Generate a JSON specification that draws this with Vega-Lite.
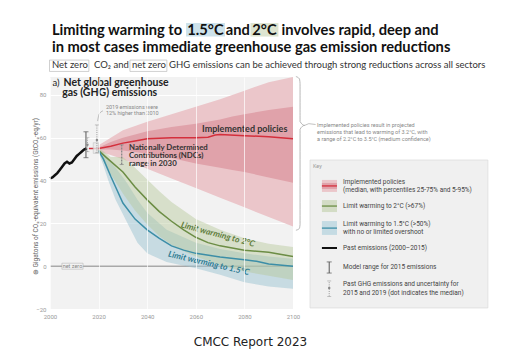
{
  "$schema": "https://vega.github.io/schema/vega-lite/v6.json",
  "autosize": {"type": "none"},
  "width": 243,
  "height": 232,
  "padding": {"left": 50, "top": 77, "right": 225, "bottom": 45},
  "background": "white",
  "config": {"font": "Roboto", "view": {"fill": "#f2f2f2", "stroke": null}},
  "datasets": {
    "bands": [
      {"year": 2020, "band": "imp_outer", "lo": 53.5, "hi": 56.5},
      {"year": 2025, "band": "imp_outer", "lo": 52, "hi": 60},
      {"year": 2030, "band": "imp_outer", "lo": 50, "hi": 63.5},
      {"year": 2040, "band": "imp_outer", "lo": 45.5, "hi": 67.5},
      {"year": 2050, "band": "imp_outer", "lo": 41, "hi": 71},
      {"year": 2060, "band": "imp_outer", "lo": 36.5, "hi": 74.5},
      {"year": 2070, "band": "imp_outer", "lo": 32, "hi": 78},
      {"year": 2080, "band": "imp_outer", "lo": 27.5, "hi": 82},
      {"year": 2090, "band": "imp_outer", "lo": 23, "hi": 86},
      {"year": 2100, "band": "imp_outer", "lo": 18.5, "hi": 88.4},
      {"year": 2020, "band": "imp_inner", "lo": 54.5, "hi": 55.5},
      {"year": 2025, "band": "imp_inner", "lo": 54.5, "hi": 58},
      {"year": 2030, "band": "imp_inner", "lo": 54, "hi": 60},
      {"year": 2040, "band": "imp_inner", "lo": 52.5, "hi": 63},
      {"year": 2050, "band": "imp_inner", "lo": 50.5, "hi": 65},
      {"year": 2060, "band": "imp_inner", "lo": 48, "hi": 66.5},
      {"year": 2070, "band": "imp_inner", "lo": 46, "hi": 68.5},
      {"year": 2075, "band": "imp_inner", "lo": 45, "hi": 70},
      {"year": 2080, "band": "imp_inner", "lo": 44, "hi": 71},
      {"year": 2090, "band": "imp_inner", "lo": 41.5, "hi": 73},
      {"year": 2100, "band": "imp_inner", "lo": 39, "hi": 74.5},
      {"year": 2020, "band": "c15", "lo": 53, "hi": 55},
      {"year": 2022, "band": "c15", "lo": 47, "hi": 53},
      {"year": 2024, "band": "c15", "lo": 40, "hi": 50},
      {"year": 2027, "band": "c15", "lo": 31, "hi": 46},
      {"year": 2031, "band": "c15", "lo": 22, "hi": 40},
      {"year": 2036, "band": "c15", "lo": 11, "hi": 31},
      {"year": 2040, "band": "c15", "lo": 6, "hi": 25},
      {"year": 2048, "band": "c15", "lo": 2, "hi": 17},
      {"year": 2060, "band": "c15", "lo": -1, "hi": 11},
      {"year": 2070, "band": "c15", "lo": -4, "hi": 8},
      {"year": 2080, "band": "c15", "lo": -7.5, "hi": 6},
      {"year": 2090, "band": "c15", "lo": -9.5, "hi": 4.5},
      {"year": 2100, "band": "c15", "lo": -10.5, "hi": 3.5},
      {"year": 2020, "band": "c2", "lo": 53, "hi": 55.5},
      {"year": 2025, "band": "c2", "lo": 43, "hi": 51},
      {"year": 2030, "band": "c2", "lo": 34, "hi": 51},
      {"year": 2035, "band": "c2", "lo": 26, "hi": 46},
      {"year": 2040, "band": "c2", "lo": 19.5, "hi": 40.5},
      {"year": 2045, "band": "c2", "lo": 14, "hi": 35},
      {"year": 2050, "band": "c2", "lo": 10, "hi": 30},
      {"year": 2055, "band": "c2", "lo": 7, "hi": 26},
      {"year": 2060, "band": "c2", "lo": 4.5, "hi": 22},
      {"year": 2070, "band": "c2", "lo": 0.5, "hi": 17},
      {"year": 2080, "band": "c2", "lo": -2.5, "hi": 13},
      {"year": 2090, "band": "c2", "lo": -4.5, "hi": 10.5},
      {"year": 2100, "band": "c2", "lo": -6.5, "hi": 9}
    ],
    "medians": [
      {"year": 2016, "path": "imp", "value": 55},
      {"year": 2020, "path": "imp", "value": 55},
      {"year": 2025, "path": "imp", "value": 56},
      {"year": 2030, "path": "imp", "value": 57.5},
      {"year": 2035, "path": "imp", "value": 58.5},
      {"year": 2040, "path": "imp", "value": 59.5},
      {"year": 2050, "path": "imp", "value": 60},
      {"year": 2060, "path": "imp", "value": 60},
      {"year": 2065, "path": "imp", "value": 60.3},
      {"year": 2068, "path": "imp", "value": 61.3},
      {"year": 2070, "path": "imp", "value": 61.5},
      {"year": 2080, "path": "imp", "value": 61},
      {"year": 2090, "path": "imp", "value": 60.5},
      {"year": 2100, "path": "imp", "value": 59.5},
      {"year": 2020, "path": "c2", "value": 54},
      {"year": 2025, "path": "c2", "value": 49},
      {"year": 2030, "path": "c2", "value": 44},
      {"year": 2035, "path": "c2", "value": 37},
      {"year": 2040, "path": "c2", "value": 31},
      {"year": 2045, "path": "c2", "value": 25.5},
      {"year": 2050, "path": "c2", "value": 21},
      {"year": 2055, "path": "c2", "value": 17},
      {"year": 2060, "path": "c2", "value": 13.5},
      {"year": 2065, "path": "c2", "value": 11},
      {"year": 2070, "path": "c2", "value": 9.5},
      {"year": 2080, "path": "c2", "value": 7.5},
      {"year": 2090, "path": "c2", "value": 6.5},
      {"year": 2100, "path": "c2", "value": 4.5},
      {"year": 2020, "path": "c15", "value": 54},
      {"year": 2022, "path": "c15", "value": 50},
      {"year": 2025, "path": "c15", "value": 42},
      {"year": 2030, "path": "c15", "value": 29.5},
      {"year": 2035, "path": "c15", "value": 22},
      {"year": 2040, "path": "c15", "value": 17},
      {"year": 2045, "path": "c15", "value": 13},
      {"year": 2050, "path": "c15", "value": 9.5},
      {"year": 2055, "path": "c15", "value": 7.5},
      {"year": 2060, "path": "c15", "value": 6},
      {"year": 2070, "path": "c15", "value": 4.3},
      {"year": 2080, "path": "c15", "value": 3},
      {"year": 2085, "path": "c15", "value": 2.3},
      {"year": 2090, "path": "c15", "value": 1},
      {"year": 2100, "path": "c15", "value": 0}
    ],
    "past": [
      {"year": 2000, "value": 41}, {"year": 2001, "value": 41.5}, {"year": 2002, "value": 42.5},
      {"year": 2003, "value": 43.5}, {"year": 2004, "value": 45}, {"year": 2005, "value": 46.5},
      {"year": 2006, "value": 48}, {"year": 2007, "value": 48.8}, {"year": 2008, "value": 48},
      {"year": 2009, "value": 48.5}, {"year": 2010, "value": 50}, {"year": 2011, "value": 51.5},
      {"year": 2012, "value": 52.5}, {"year": 2013, "value": 53.5}, {"year": 2014, "value": 54.5},
      {"year": 2015, "value": 55}
    ],
    "bars": [
      {"kind": "model", "year": 2014.8, "lo": 50.7, "hi": 62.8},
      {"kind": "past", "year": 2015.4, "lo": 53.5, "hi": 60, "mid": 56.7},
      {"kind": "past", "year": 2019.3, "lo": 53, "hi": 66, "mid": 59},
      {"kind": "ndc", "year": 2029.5, "lo": 47.5, "hi": 56.7},
      {"kind": "model", "year": 2114.9, "lo": -3.2, "hi": 2.0},
      {"kind": "past", "year": 2114.9, "lo": -14.1, "hi": -6.9, "mid": -10.2}
    ],
    "swatches": [
      {"item": "imp_outer", "x": 2111.9, "x2": 2118.1, "lo": 34.7, "hi": 40.3},
      {"item": "imp_inner", "x": 2111.9, "x2": 2118.1, "lo": 36.1, "hi": 38.9},
      {"item": "c2", "x": 2111.9, "x2": 2118.1, "lo": 25.3, "hi": 30.9},
      {"item": "c15", "x": 2111.9, "x2": 2118.1, "lo": 14.6, "hi": 21.1}
    ],
    "swatchlines": [
      {"item": "imp", "x": 2111.9, "x2": 2118.1, "y": 37.5},
      {"item": "c2", "x": 2111.9, "x2": 2118.1, "y": 28.1},
      {"item": "c15", "x": 2111.9, "x2": 2118.1, "y": 17.8}
    ],
    "keytext": [
      {"y": 39.3, "label": "Implemented policies"},
      {"y": 35.6, "label": "(median, with percentiles 25-75% and 5-95%)"},
      {"y": 28.1, "label": "Limit warming to 2°C (>67%)"},
      {"y": 19.7, "label": "Limit warming to 1.5°C (>50%)"},
      {"y": 16.0, "label": "with no or limited overshoot"},
      {"y": 8.5, "label": "Past emissions (2000–2015)"},
      {"y": -0.4, "label": "Model range for 2015 emissions"},
      {"y": -8.3, "label": "Past GHG emissions and uncertainty for"},
      {"y": -12.5, "label": "2015 and 2019 (dot indicates the median)"}
    ],
    "smallgray": [
      {"x": 2023, "y": 74.4, "label": "2019 emissions were"},
      {"x": 2023, "y": 71.6, "label": "12% higher than 2010"},
      {"x": 2109.9, "y": 66.0, "label": "Implemented policies result in projected"},
      {"x": 2109.9, "y": 62.7, "label": "emissions that lead to warming of 3.2°C, with"},
      {"x": 2109.9, "y": 59.4, "label": "a range of 2.2°C to 3.5°C (medium confidence)"}
    ],
    "brace": [
      {"o": 1, "x": 2101.2, "y": 88.6},
      {"o": 2, "x": 2102.6, "y": 87.6},
      {"o": 3, "x": 2102.9, "y": 85.5},
      {"o": 4, "x": 2102.9, "y": 67.6},
      {"o": 5, "x": 2104.8, "y": 65.8},
      {"o": 6, "x": 2102.9, "y": 64.0},
      {"o": 7, "x": 2102.9, "y": 19.5},
      {"o": 8, "x": 2102.6, "y": 17.6},
      {"o": 9, "x": 2101.2, "y": 16.8}
    ],
    "pointer": [
      {"o": 1, "x": 2104.8, "y": 65.8},
      {"o": 2, "x": 2106.5, "y": 66.6},
      {"o": 3, "x": 2109.3, "y": 66.2}
    ],
    "arrow": [
      {"o": 1, "x": 2021.8, "y": 72.6},
      {"o": 2, "x": 2020.2, "y": 71.0},
      {"o": 3, "x": 2019.6, "y": 67.8}
    ],
    "boxes": [
      {"box": "key", "x": 2107, "x2": 2180.2, "lo": -19.5, "hi": 49.6},
      {"box": "netzero", "x": 2004.9, "x2": 2013.6, "lo": -1.4, "hi": 1.4},
      {"box": "start", "x": 2017.8, "x2": 2019.9, "lo": 52.7, "hi": 57.7}
    ],
    "highlights": [
      {"hl": "h15", "x": 2056.0, "x2": 2072.0, "lo": 107.3, "hi": 113.6},
      {"hl": "h2", "x": 2082.5, "x2": 2094.0, "lo": 107.3, "hi": 113.6},
      {"hl": "nz1", "x": 1999.8, "x2": 2016.0, "lo": 91.0, "hi": 96.3},
      {"hl": "nz2", "x": 2032.9, "x2": 2048.1, "lo": 91.0, "hi": 96.3}
    ],
    "titleleft": [
      {"x": 2000.8, "y": 108.0, "label": "Limiting warming to"},
      {"x": 2095.3, "y": 108.0, "label": "involves rapid, deep and"},
      {"x": 2000.8, "y": 100.3, "label": "in most cases immediate greenhouse gas emission reductions"}
    ],
    "titlecenter": [
      {"x": 2064.0, "y": 108.0, "label": "1.5°C"},
      {"x": 2077.3, "y": 108.0, "label": "and"},
      {"x": 2088.25, "y": 108.0, "label": "2°C"}
    ],
    "subtitletext": [
      {"x": 2000.82, "y": 92.5, "label": "Net zero"},
      {"x": 2018.1, "y": 92.5, "label": "CO₂ and"},
      {"x": 2033.7, "y": 92.5, "label": "net zero"},
      {"x": 2049.0, "y": 92.5, "label": "GHG emissions can be achieved through strong reductions across all sectors"}
    ]
  },
  "layer": [
    {
      "data": {"values": [{"v": 0}]},
      "mark": {"type": "rule", "color": "#a9a9a9", "strokeWidth": 1.5},
      "encoding": {
        "y": {"field": "v", "type": "quantitative",
          "scale": {"domain": [-20, 88.4], "nice": false, "zero": false},
          "axis": {"values": [-20, 0, 20, 40, 60, 80], "format": "d", "grid": true, "gridColor": "#ffffff", "gridWidth": 1,
            "domain": false, "ticks": false, "labelFontSize": 6, "labelColor": "#999", "labelPadding": 4, "labelFlush": false,
            "title": "⊕ Gigatons of CO₂-equivalent emissions (GtCO₂-eq/yr)", "titleFontSize": 6.5, "titleFontWeight": "normal",
            "titleColor": "#666", "titleX": -15, "titleY": 119, "titleBaseline": "middle"}}
      }
    },
    {
      "data": {"name": "bands"},
      "transform": [{"filter": "datum.band === 'imp_outer'"}],
      "mark": {"type": "area", "color": "#ebc6ca"},
      "encoding": {
        "x": {"field": "year", "type": "quantitative",
          "scale": {"domain": [2000, 2100], "nice": false, "zero": false},
          "axis": {"values": [2000, 2020, 2040, 2060, 2080, 2100], "format": "d", "grid": true, "gridColor": "#ffffff", "gridWidth": 1,
            "gridOpacity": 0.7, "zindex": 1,
            "domain": false, "ticks": false, "labelFontSize": 6, "labelColor": "#999", "labelPadding": 4, "labelFlush": false, "title": null}},
        "y": {"field": "lo", "type": "quantitative"},
        "y2": {"field": "hi"}
      }
    },
    {
      "data": {"name": "bands"},
      "transform": [{"filter": "datum.band === 'imp_inner'"}],
      "mark": {"type": "area", "color": "#e0a2aa"},
      "encoding": {
        "x": {"field": "year", "type": "quantitative"},
        "y": {"field": "lo", "type": "quantitative"},
        "y2": {"field": "hi"}
      }
    },
    {
      "data": {"name": "bands"},
      "transform": [{"filter": "datum.band === 'c15'"}],
      "mark": {"type": "area", "color": "#9cc3d2", "opacity": 0.5},
      "encoding": {
        "x": {"field": "year", "type": "quantitative"},
        "y": {"field": "lo", "type": "quantitative"},
        "y2": {"field": "hi"}
      }
    },
    {
      "data": {"name": "bands"},
      "transform": [{"filter": "datum.band === 'c2'"}],
      "mark": {"type": "area", "color": "#b5c79a", "opacity": 0.45},
      "encoding": {
        "x": {"field": "year", "type": "quantitative"},
        "y": {"field": "lo", "type": "quantitative"},
        "y2": {"field": "hi"}
      }
    },
    {
      "data": {"name": "medians"},
      "mark": {"type": "line", "strokeWidth": 1.5},
      "encoding": {
        "x": {"field": "year", "type": "quantitative"},
        "y": {"field": "value", "type": "quantitative"},
        "color": {"field": "path", "type": "nominal", "legend": null,
          "scale": {"domain": ["imp", "c2", "c15"], "range": ["#d42f3c", "#6c8d45", "#3c8ea7"]}}
      }
    },
    {
      "data": {"name": "past"},
      "mark": {"type": "line", "color": "#111", "strokeWidth": 2.5},
      "encoding": {
        "x": {"field": "year", "type": "quantitative"},
        "y": {"field": "value", "type": "quantitative"}
      }
    },
    {
      "data": {"name": "boxes"},
      "transform": [{"filter": "datum.box === 'key'"}],
      "mark": {"type": "rect", "fill": "#f0f0f0", "stroke": "#dddddd", "strokeWidth": 0.8},
      "encoding": {
        "x": {"field": "x", "type": "quantitative"}, "x2": {"field": "x2"},
        "y": {"field": "lo", "type": "quantitative"}, "y2": {"field": "hi"}
      }
    },
    {
      "data": {"name": "boxes"},
      "transform": [{"filter": "datum.box === 'start'"}],
      "mark": {"type": "rect", "fill": "#e9e9e9", "fillOpacity": 0.8, "stroke": "#bbbbbb", "strokeWidth": 0.5},
      "encoding": {
        "x": {"field": "x", "type": "quantitative"}, "x2": {"field": "x2"},
        "y": {"field": "lo", "type": "quantitative"}, "y2": {"field": "hi"}
      }
    },
    {
      "data": {"name": "bars"},
      "transform": [{"filter": "datum.kind === 'model'"}],
      "mark": {"type": "rule", "color": "#555", "strokeWidth": 1},
      "encoding": {
        "x": {"field": "year", "type": "quantitative"},
        "y": {"field": "lo", "type": "quantitative"}, "y2": {"field": "hi"}
      }
    },
    {
      "data": {"name": "bars"},
      "transform": [{"filter": "datum.kind === 'model'"}, {"fold": ["lo", "hi"], "as": ["end", "v"]}],
      "mark": {"type": "tick", "orient": "horizontal", "color": "#555", "size": 5, "thickness": 1},
      "encoding": {
        "x": {"field": "year", "type": "quantitative"},
        "y": {"field": "v", "type": "quantitative"}
      }
    },
    {
      "data": {"name": "bars"},
      "transform": [{"filter": "datum.kind === 'past'"}],
      "mark": {"type": "rule", "color": "#999", "strokeWidth": 1, "strokeDash": [1, 1.2]},
      "encoding": {
        "x": {"field": "year", "type": "quantitative"},
        "y": {"field": "lo", "type": "quantitative"}, "y2": {"field": "hi"}
      }
    },
    {
      "data": {"name": "bars"},
      "transform": [{"filter": "datum.kind === 'past'"}, {"fold": ["lo", "hi"], "as": ["end", "v"]}],
      "mark": {"type": "tick", "orient": "horizontal", "color": "#999", "size": 4, "thickness": 0.8},
      "encoding": {
        "x": {"field": "year", "type": "quantitative"},
        "y": {"field": "v", "type": "quantitative"}
      }
    },
    {
      "data": {"name": "bars"},
      "transform": [{"filter": "datum.kind === 'past'"}],
      "mark": {"type": "point", "filled": true, "color": "#888", "size": 6, "opacity": 1},
      "encoding": {
        "x": {"field": "year", "type": "quantitative"},
        "y": {"field": "mid", "type": "quantitative"}
      }
    },
    {
      "data": {"name": "bars"},
      "transform": [{"filter": "datum.kind === 'ndc'"}],
      "mark": {"type": "rule", "color": "#888", "strokeWidth": 1.3, "strokeDash": [2, 1]},
      "encoding": {
        "x": {"field": "year", "type": "quantitative"},
        "y": {"field": "lo", "type": "quantitative"}, "y2": {"field": "hi"}
      }
    },
    {
      "data": {"name": "bars"},
      "transform": [{"filter": "datum.kind === 'ndc'"}, {"fold": ["lo", "hi"], "as": ["end", "v"]}],
      "mark": {"type": "tick", "orient": "horizontal", "color": "#888", "size": 4, "thickness": 1},
      "encoding": {
        "x": {"field": "year", "type": "quantitative"},
        "y": {"field": "v", "type": "quantitative"}
      }
    },
    {
      "data": {"name": "arrow"},
      "mark": {"type": "line", "color": "#999", "strokeWidth": 0.6, "interpolate": "monotone"},
      "encoding": {
        "x": {"field": "x", "type": "quantitative"},
        "y": {"field": "y", "type": "quantitative"},
        "order": {"field": "o"}
      }
    },
    {
      "data": {"name": "boxes"},
      "transform": [{"filter": "datum.box === 'netzero'"}],
      "mark": {"type": "rect", "fill": "#f2f2f2", "stroke": "#aaaaaa", "strokeWidth": 0.5},
      "encoding": {
        "x": {"field": "x", "type": "quantitative"}, "x2": {"field": "x2"},
        "y": {"field": "lo", "type": "quantitative"}, "y2": {"field": "hi"}
      }
    },
    {
      "data": {"values": [{"x": 2009.25, "y": 0, "label": "net zero"}]},
      "mark": {"type": "text", "fontSize": 5.5, "color": "#888", "align": "center", "baseline": "middle"},
      "encoding": {
        "x": {"field": "x", "type": "quantitative"},
        "y": {"field": "y", "type": "quantitative"},
        "text": {"field": "label"}
      }
    },
    {
      "data": {"values": [{"x": 2001.0, "y": 85.6, "label": "a)"}]},
      "mark": {"type": "text", "font": "Lato", "fontSize": 9.5, "color": "#222", "align": "left", "baseline": "middle"},
      "encoding": {
        "x": {"field": "x", "type": "quantitative"},
        "y": {"field": "y", "type": "quantitative"},
        "text": {"field": "label"}
      }
    },
    {
      "data": {"values": [{"x": 2005.6, "y": 85.6, "label": "Net global greenhouse"}, {"x": 2005.0, "y": 80.9, "label": "gas (GHG) emissions"}]},
      "mark": {"type": "text", "font": "Lato", "fontSize": 10.5, "fontWeight": "bold", "color": "#222", "align": "left", "baseline": "middle"},
      "encoding": {
        "x": {"field": "x", "type": "quantitative"},
        "y": {"field": "y", "type": "quantitative"},
        "text": {"field": "label"}
      }
    },
    {
      "data": {"name": "smallgray"},
      "mark": {"type": "text", "fontSize": 5.5, "color": "#888", "align": "left", "baseline": "middle"},
      "encoding": {
        "x": {"field": "x", "type": "quantitative"},
        "y": {"field": "y", "type": "quantitative"},
        "text": {"field": "label"}
      }
    },
    {
      "data": {"values": [{"x": 2062.6, "y": 64.1, "label": "Implemented policies"}]},
      "mark": {"type": "text", "font": "Lato", "fontSize": 9, "fontWeight": "bold", "color": "#333", "align": "left", "baseline": "middle"},
      "encoding": {
        "x": {"field": "x", "type": "quantitative"},
        "y": {"field": "y", "type": "quantitative"},
        "text": {"field": "label"}
      }
    },
    {
      "data": {"values": [{"x": 2032.5, "y": 55.2, "label": "Nationally Determined"}, {"x": 2032.5, "y": 51.5, "label": "Contributions (NDCs)"}, {"x": 2032.5, "y": 47.7, "label": "range in 2030"}]},
      "mark": {"type": "text", "font": "Lato", "fontSize": 7.8, "fontWeight": "bold", "color": "#333", "align": "left", "baseline": "middle"},
      "encoding": {
        "x": {"field": "x", "type": "quantitative"},
        "y": {"field": "y", "type": "quantitative"},
        "text": {"field": "label"}
      }
    },
    {
      "data": {"values": [{"x": 2069.1, "y": 15.0, "label": "Limit warming to 2°C"}]},
      "mark": {"type": "text", "font": "Lato", "fontSize": 8.5, "fontWeight": "bold", "fontStyle": "italic", "color": "#5f7d3c", "align": "center", "baseline": "middle", "angle": 15},
      "encoding": {
        "x": {"field": "x", "type": "quantitative"},
        "y": {"field": "y", "type": "quantitative"},
        "text": {"field": "label"}
      }
    },
    {
      "data": {"values": [{"x": 2065.4, "y": 1.5, "label": "Limit warming to 1.5°C"}]},
      "mark": {"type": "text", "font": "Lato", "fontSize": 8.5, "fontWeight": "bold", "fontStyle": "italic", "color": "#2e7c92", "align": "center", "baseline": "middle", "angle": 13},
      "encoding": {
        "x": {"field": "x", "type": "quantitative"},
        "y": {"field": "y", "type": "quantitative"},
        "text": {"field": "label"}
      }
    },
    {
      "data": {"name": "brace"},
      "mark": {"type": "line", "color": "#999", "strokeWidth": 0.7, "interpolate": "monotone"},
      "encoding": {
        "x": {"field": "x", "type": "quantitative"},
        "y": {"field": "y", "type": "quantitative"},
        "order": {"field": "o"}
      }
    },
    {
      "data": {"name": "pointer"},
      "mark": {"type": "line", "color": "#999", "strokeWidth": 0.6},
      "encoding": {
        "x": {"field": "x", "type": "quantitative"},
        "y": {"field": "y", "type": "quantitative"},
        "order": {"field": "o"}
      }
    },
    {
      "data": {"name": "swatches"},
      "transform": [{"filter": "datum.item === 'imp_outer'"}],
      "mark": {"type": "rect", "fill": "#ebc6ca"},
      "encoding": {
        "x": {"field": "x", "type": "quantitative"}, "x2": {"field": "x2"},
        "y": {"field": "lo", "type": "quantitative"}, "y2": {"field": "hi"}
      }
    },
    {
      "data": {"name": "swatches"},
      "transform": [{"filter": "datum.item === 'imp_inner'"}],
      "mark": {"type": "rect", "fill": "#e0a2aa"},
      "encoding": {
        "x": {"field": "x", "type": "quantitative"}, "x2": {"field": "x2"},
        "y": {"field": "lo", "type": "quantitative"}, "y2": {"field": "hi"}
      }
    },
    {
      "data": {"name": "swatches"},
      "transform": [{"filter": "datum.item === 'c2'"}],
      "mark": {"type": "rect", "fill": "#d3dcc5"},
      "encoding": {
        "x": {"field": "x", "type": "quantitative"}, "x2": {"field": "x2"},
        "y": {"field": "lo", "type": "quantitative"}, "y2": {"field": "hi"}
      }
    },
    {
      "data": {"name": "swatches"},
      "transform": [{"filter": "datum.item === 'c15'"}],
      "mark": {"type": "rect", "fill": "#c5dbe3"},
      "encoding": {
        "x": {"field": "x", "type": "quantitative"}, "x2": {"field": "x2"},
        "y": {"field": "lo", "type": "quantitative"}, "y2": {"field": "hi"}
      }
    },
    {
      "data": {"name": "swatchlines"},
      "mark": {"type": "rule", "strokeWidth": 1.3},
      "encoding": {
        "x": {"field": "x", "type": "quantitative"}, "x2": {"field": "x2"},
        "y": {"field": "y", "type": "quantitative"},
        "color": {"field": "item", "type": "nominal", "legend": null}
      }
    },
    {
      "data": {"values": [{"x": 2111.9, "x2": 2118.1, "y": 8.5}]},
      "mark": {"type": "rule", "color": "#111", "strokeWidth": 2},
      "encoding": {
        "x": {"field": "x", "type": "quantitative"}, "x2": {"field": "x2"},
        "y": {"field": "y", "type": "quantitative"}
      }
    },
    {
      "data": {"values": [{"x": 2108.2, "y": 46.8, "label": "Key"}]},
      "mark": {"type": "text", "fontSize": 5.5, "color": "#999", "align": "left", "baseline": "middle"},
      "encoding": {
        "x": {"field": "x", "type": "quantitative"},
        "y": {"field": "y", "type": "quantitative"},
        "text": {"field": "label"}
      }
    },
    {
      "data": {"name": "keytext"},
      "mark": {"type": "text", "fontSize": 6.5, "color": "#444", "align": "left", "baseline": "middle"},
      "encoding": {
        "x": {"datum": 2120.6, "type": "quantitative"},
        "y": {"field": "y", "type": "quantitative"},
        "text": {"field": "label"}
      }
    },
    {
      "data": {"name": "highlights"},
      "transform": [{"filter": "datum.hl === 'h15'"}],
      "mark": {"type": "rect", "fill": "#cde2eb"},
      "encoding": {
        "x": {"field": "x", "type": "quantitative"}, "x2": {"field": "x2"},
        "y": {"field": "lo", "type": "quantitative"}, "y2": {"field": "hi"}
      }
    },
    {
      "data": {"name": "highlights"},
      "transform": [{"filter": "datum.hl === 'h2'"}],
      "mark": {"type": "rect", "fill": "#dde4d0"},
      "encoding": {
        "x": {"field": "x", "type": "quantitative"}, "x2": {"field": "x2"},
        "y": {"field": "lo", "type": "quantitative"}, "y2": {"field": "hi"}
      }
    },
    {
      "data": {"name": "highlights"},
      "transform": [{"filter": "datum.hl === 'nz1' || datum.hl === 'nz2'"}],
      "mark": {"type": "rect", "fill": "white", "stroke": "#bbbbbb", "strokeWidth": 0.7},
      "encoding": {
        "x": {"field": "x", "type": "quantitative"}, "x2": {"field": "x2"},
        "y": {"field": "lo", "type": "quantitative"}, "y2": {"field": "hi"}
      }
    },
    {
      "data": {"name": "titleleft"},
      "mark": {"type": "text", "font": "Lato", "fontSize": 14.7, "fontWeight": "bold", "color": "#111", "align": "left", "baseline": "alphabetic"},
      "encoding": {
        "x": {"field": "x", "type": "quantitative"},
        "y": {"field": "y", "type": "quantitative"},
        "text": {"field": "label"}
      }
    },
    {
      "data": {"name": "titlecenter"},
      "mark": {"type": "text", "font": "Lato", "fontSize": 14.7, "fontWeight": "bold", "color": "#111", "align": "center", "baseline": "alphabetic"},
      "encoding": {
        "x": {"field": "x", "type": "quantitative"},
        "y": {"field": "y", "type": "quantitative"},
        "text": {"field": "label"}
      }
    },
    {
      "data": {"name": "subtitletext"},
      "mark": {"type": "text", "font": "Lato", "fontSize": 9.5, "color": "#333", "align": "left", "baseline": "alphabetic"},
      "encoding": {
        "x": {"field": "x", "type": "quantitative"},
        "y": {"field": "y", "type": "quantitative"},
        "text": {"field": "label"}
      }
    },
    {
      "data": {"values": [{"x": 2082.5, "y": -35.4, "label": "CMCC Report 2023"}]},
      "mark": {"type": "text", "font": "DejaVu Sans", "fontSize": 12, "color": "#222", "align": "center", "baseline": "middle"},
      "encoding": {
        "x": {"field": "x", "type": "quantitative"},
        "y": {"field": "y", "type": "quantitative"},
        "text": {"field": "label"}
      }
    }
  ]
}
